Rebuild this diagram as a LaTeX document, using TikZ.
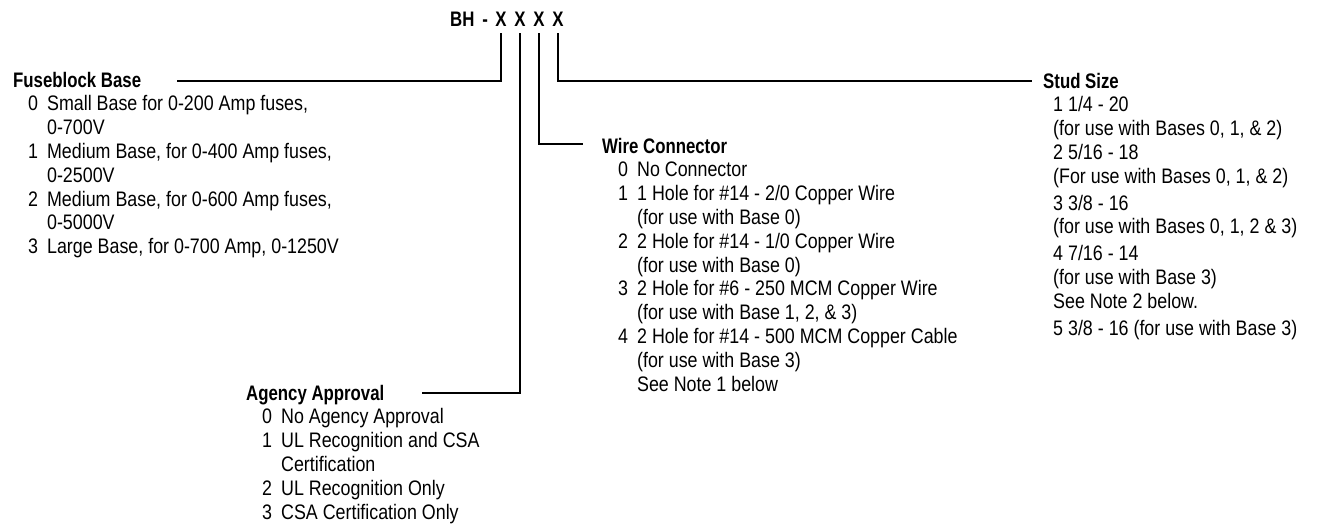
\documentclass[tikz,border=0pt]{standalone}
\usepackage{fontspec}
\setmainfont{Liberation Sans}[FakeStretch=0.85,BoldFeatures={FakeStretch=0.80}]
\usepackage{tikz}
\usetikzlibrary{positioning}
\tikzset{code letter/.style={font=\fontsize{21}{24}\selectfont\bfseries, inner sep=0pt, anchor=base}}
\tikzset{option list/.style={font=\fontsize{21}{23.8}\selectfont, inner sep=0pt, anchor=base west}}
\tikzset{lead/.style={line width=1.8pt, shorten <=7pt}}
\newcommand{\codehead}[1]{\multicolumn{2}{@{}l@{}}{\bfseries #1}}

\begin{document}
\begin{tikzpicture}[x=1pt,y=-1pt]
\useasboundingbox (0,0) rectangle (1317,523);
% part number
\node[code letter] (x1) at (501,26) {X};
\node[code letter] (x2) at (520,26) {X};
\node[code letter] (x3) at (539,26) {X};
\node[code letter] (x4) at (558,26) {X};
\node[code letter, left=7pt of x1] (bh) {BH\hspace{8pt}-};
% option groups
\node[option list] (fuse) at (13,87) {\begin{tabular}[t]{@{\hspace{15pt}}l@{\hspace{9pt}}l@{}}
\codehead{Fuseblock Base}\\
0 & Small Base for 0-200 Amp fuses,\\
  & 0-700V\\
1 & Medium Base, for 0-400 Amp fuses,\\
  & 0-2500V\\
2 & Medium Base, for 0-600 Amp fuses,\\
  & 0-5000V\\
3 & Large Base, for 0-700 Amp, 0-1250V
\end{tabular}};
\node[option list] (agency) at (246,400) {\begin{tabular}[t]{@{\hspace{16pt}}l@{\hspace{9pt}}l@{}}
\codehead{Agency Approval}\\
0 & No Agency Approval\\
1 & UL Recognition and CSA\\
  & Certification\\
2 & UL Recognition Only\\
3 & CSA Certification Only
\end{tabular}};
\node[option list] (wire) at (602,153) {\begin{tabular}[t]{@{\hspace{16pt}}l@{\hspace{9pt}}l@{}}
\codehead{Wire Connector}\\
0 & No Connector\\
1 & 1 Hole for \#14 - 2/0 Copper Wire\\
  & (for use with Base 0)\\
2 & 2 Hole for \#14 - 1/0 Copper Wire\\
  & (for use with Base 0)\\
3 & 2 Hole for \#6 - 250 MCM Copper Wire\\
  & (for use with Base 1, 2, \& 3)\\
4 & 2 Hole for \#14 - 500 MCM Copper Cable\\
  & (for use with Base 3)\\
  & See Note 1 below
\end{tabular}};
\node[option list] (stud) at (1043,88) {\begin{tabular}[t]{@{\hspace{10pt}}l@{}}
\multicolumn{1}{@{}l@{}}{\bfseries Stud Size}\\
1 1/4 - 20\\
(for use with Bases 0, 1, \& 2)\\
2 5/16 - 18\\
(For use with Bases 0, 1, \& 2)\\[3pt]
3 3/8 - 16\\
(for use with Bases 0, 1, 2 \& 3)\\[3pt]
4 7/16 - 14\\
(for use with Base 3)\\
See Note 2 below.\\[3pt]
5 3/8 - 16 (for use with Base 3)
\end{tabular}};
% leads
\coordinate (fuse end) at (177,81);
\coordinate (agency end) at (422,393);
\coordinate (wire end) at (583,144);
\coordinate (stud end) at (1032,81);
\draw[lead] (x1.south) |- (fuse end);
\draw[lead] (x2.south) |- (agency end);
\draw[lead] (x3.south) |- (wire end);
\draw[lead] (x4.south) |- (stud end);
\end{tikzpicture}
\end{document}
